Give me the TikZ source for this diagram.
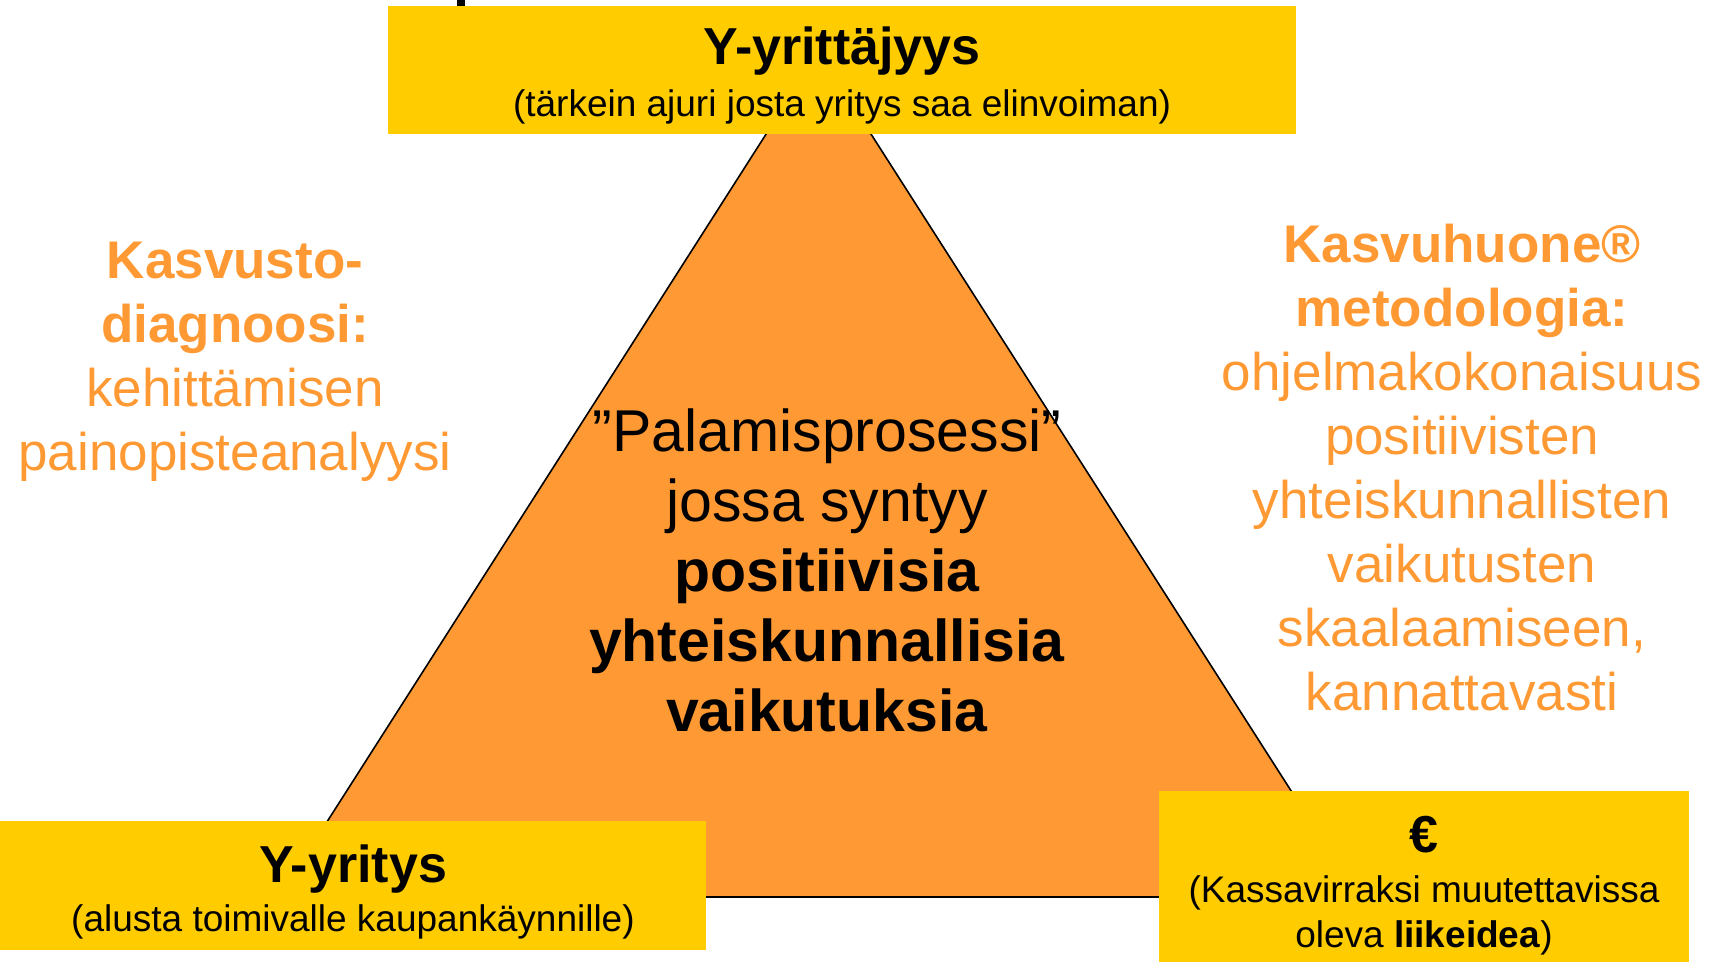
\documentclass[tikz,border=0pt]{standalone}
\usepackage{fontspec}
\setmainfont{Liberation Sans}
\definecolor{keltainen}{RGB}{255,204,0}
\definecolor{oranssi}{RGB}{255,153,51}

\begin{document}
\begin{tikzpicture}[x=0.5pt,y=-0.5pt]
\tikzset{laatikko/.style={fill=keltainen, inner sep=0pt},
laatikkoteksti/.style={align=center, inner sep=0pt},
sivuteksti/.style={text=oranssi, align=center, font=\fontsize{26.5}{32}\selectfont}}
\useasboundingbox (0,0) rectangle (1717,962);
\fill (457,0) rectangle (465,6);
% kolmio
\coordinate (A) at (818.5,52);
\coordinate (B) at (1359,897);
\coordinate (C) at (279,897);
\draw[fill=oranssi, line width=0.8pt] (A) -- (B) -- (C) -- cycle;
% laatikot
\node[laatikko, minimum width=454pt, minimum height=64pt] (ylos) at (842,70) {};
\node[laatikko, minimum width=353pt, minimum height=64.5pt] (vasen) at (353,885.5) {};
\node[laatikko, minimum width=265pt, minimum height=92pt] (oikea) at (1424,883) {};
\node[laatikkoteksti, font=\fontsize{18.5}{25.75}\selectfont, yshift=-2.75pt] (ylosteksti) at (ylos.center)
  {{\fontsize{26}{31}\bfseries Y-yrittäjyys}\\(tärkein ajuri josta yritys saa elinvoiman)};
\node[laatikkoteksti, font=\fontsize{18.5}{24.75}\selectfont, yshift=-3.25pt] (vasenteksti) at (vasen.center)
  {{\fontsize{26}{31}\bfseries Y-yritys}\\(alusta toimivalle kaupankäynnille)};
\node[laatikkoteksti, font=\fontsize{18.5}{22.5}\selectfont, yshift=-1.4pt] (oikeateksti) at (oikea.center)
  {{\fontsize{26}{31}\bfseries €}\\[2.75pt](Kassavirraksi muutettavissa\\oleva \textbf{liikeidea})};
% tekstit
\node[align=center, font=\fontsize{29.5}{35}\selectfont] (keski) at (827,570.5)
  {”Palamisprosessi”\\jossa syntyy\\\textbf{positiivisia}\\\textbf{yhteiskunnallisia}\\\textbf{vaikutuksia}};
\node[sivuteksti] (diagnoosi) at (235,362)
  {\textbf{Kasvusto-}\\\textbf{diagnoosi:}\\kehittämisen\\painopisteanalyysi};
\node[sivuteksti] (metodologia) at (1462,468)
  {\textbf{Kasvuhuone®}\\\textbf{metodologia:}\\ohjelmakokonaisuus\\positiivisten\\yhteiskunnallisten\\vaikutusten\\skaalaamiseen,\\kannattavasti};
\end{tikzpicture}
\end{document}
